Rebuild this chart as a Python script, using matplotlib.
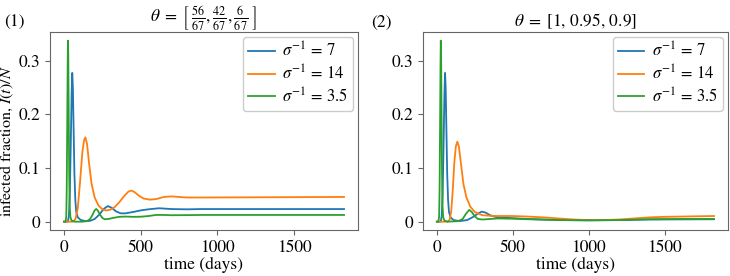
import matplotlib
matplotlib.use("Agg")
import matplotlib.pyplot as plt

plt.rcParams['font.family'] = ['STIXGeneral', 'DejaVu Serif']
plt.rcParams['mathtext.fontset'] = 'stix'
plt.rcParams['font.size'] = 12.5

# ---- data: panel 1 ----
p1_green_t = [0, 10, 15, 18, 21, 24, 26, 28, 31, 34, 37, 42, 50, 70, 120, 150, 170, 185, 200, 210, 220, 235, 250, 265, 290, 320, 360, 400, 450, 500, 550, 600, 650, 700, 800, 900, 1825]
p1_green_v = [0, 0, 0.01, 0.06, 0.17, 0.29, 0.337, 0.31, 0.2, 0.09, 0.03, 0.008, 0.002, 0.0, 0.0, 0.001, 0.005, 0.012, 0.021, 0.0236, 0.021, 0.013, 0.007, 0.0045, 0.005, 0.007, 0.009, 0.0095, 0.009, 0.0092, 0.0105, 0.0125, 0.0125, 0.012, 0.0122, 0.0125, 0.0125]

p1_blue_t = [0, 25, 32, 38, 44, 50, 54, 58, 63, 68, 74, 80, 90, 110, 140, 170, 200, 230, 260, 286, 310, 340, 370, 400, 450, 500, 550, 620, 700, 800, 900, 1825]
p1_blue_v = [0, 0, 0.01, 0.05, 0.14, 0.24, 0.277, 0.25, 0.17, 0.09, 0.04, 0.018, 0.008, 0.003, 0.001, 0.0015, 0.005, 0.013, 0.024, 0.029, 0.026, 0.019, 0.0155, 0.0155, 0.018, 0.021, 0.023, 0.025, 0.0235, 0.023, 0.0235, 0.0235]

p1_orange_t = [0, 60, 75, 90, 105, 120, 132, 140, 150, 165, 180, 200, 225, 250, 275, 300, 330, 360, 390, 420, 440, 460, 490, 520, 560, 600, 650, 700, 750, 800, 900, 1825]
p1_orange_v = [0, 0, 0.005, 0.025, 0.075, 0.13, 0.153, 0.157, 0.145, 0.105, 0.07, 0.045, 0.03, 0.023, 0.021, 0.022, 0.027, 0.036, 0.047, 0.056, 0.058, 0.055, 0.048, 0.043, 0.041, 0.042, 0.046, 0.047, 0.046, 0.045, 0.045, 0.046]

# ---- data: panel 2 ----
p2_green_t = [0, 10, 15, 18, 21, 24, 26, 28, 31, 34, 37, 42, 50, 70, 140, 170, 190, 213, 230, 250, 270, 300, 350, 400, 500, 600, 800, 1000, 1200, 1400, 1600, 1825]
p2_green_v = [0, 0, 0.01, 0.06, 0.17, 0.29, 0.337, 0.31, 0.2, 0.09, 0.03, 0.008, 0.002, 0.0, 0.001, 0.005, 0.014, 0.022, 0.018, 0.01, 0.005, 0.004, 0.005, 0.006, 0.0055, 0.0045, 0.003, 0.0025, 0.003, 0.0045, 0.005, 0.005]

p2_blue_t = [0, 25, 32, 38, 44, 50, 54, 58, 63, 68, 74, 80, 90, 110, 150, 200, 240, 270, 296, 320, 350, 400, 500, 600, 800, 1000, 1200, 1400, 1825]
p2_blue_v = [0, 0, 0.01, 0.05, 0.14, 0.24, 0.277, 0.25, 0.17, 0.09, 0.04, 0.018, 0.008, 0.003, 0.001, 0.003, 0.009, 0.015, 0.0187, 0.017, 0.012, 0.008, 0.0065, 0.005, 0.003, 0.0025, 0.003, 0.004, 0.0045]

p2_orange_t = [0, 70, 85, 95, 105, 115, 125, 135, 145, 160, 175, 195, 220, 250, 300, 350, 400, 500, 600, 700, 800, 900, 1000, 1100, 1200, 1300, 1400, 1500, 1825]
p2_orange_v = [0, 0, 0.004, 0.02, 0.06, 0.11, 0.14, 0.149, 0.14, 0.105, 0.07, 0.045, 0.028, 0.018, 0.012, 0.011, 0.0105, 0.0105, 0.0095, 0.008, 0.006, 0.004, 0.003, 0.003, 0.004, 0.006, 0.008, 0.009, 0.0105]

legend_labels = [r'$\sigma^{-1}\,=\,7$', r'$\sigma^{-1}\,=\,14$', r'$\sigma^{-1}\,=\,3.5$']
titles = [r'$\theta\;=\;\left[\;\frac{56}{67}, \frac{42}{67}, \frac{6}{67}\;\right]$',
          r'$\theta\;=\;[1,\,0.95,\,0.9]$']
panel_tags = ['(1)', '(2)']
yticks = [0, 0.1, 0.2, 0.3]
ytick_labels = ['0', '0.1', '0.2', '0.3']
xticks = [0, 500, 1000, 1500]

blue, orange, green = '#1f77b4', '#ff7f0e', '#2ca02c'

fig = plt.figure(figsize=(7.3, 2.76), dpi=100)
ax1 = fig.add_axes([0.0685, 0.1667, 0.4219, 0.717])
ax2 = fig.add_axes([0.5795, 0.1667, 0.4175, 0.717])

panels = [
    (ax1, (p1_blue_t, p1_blue_v), (p1_orange_t, p1_orange_v), (p1_green_t, p1_green_v)),
    (ax2, (p2_blue_t, p2_blue_v), (p2_orange_t, p2_orange_v), (p2_green_t, p2_green_v)),
]

for i, (ax, b, o, g) in enumerate(panels):
    ax.plot(b[0], b[1], color=blue, lw=1.3, label=legend_labels[0])
    ax.plot(o[0], o[1], color=orange, lw=1.3, label=legend_labels[1])
    ax.plot(g[0], g[1], color=green, lw=1.3, label=legend_labels[2])
    ax.set_xlim(-91, 1916)
    ax.set_ylim(-0.0155, 0.353)
    ax.set_yticks(yticks)
    ax.set_yticklabels(ytick_labels)
    ax.set_xticks(xticks)
    ax.set_xlabel('time (days)', labelpad=1)
    ax.set_title(titles[i], fontsize=12.5, pad=4)
    for s in ax.spines.values():
        s.set_color('0.4')
    ax.tick_params(colors='0.4', labelcolor='black')
    ax.legend(loc='upper right', fontsize=12, framealpha=1,
              edgecolor='0.8', handlelength=1.6, handletextpad=0.45,
              borderaxespad=0.3, borderpad=0.3, labelspacing=0.2)

ax1.set_ylabel(r'infected fraction, $I(t)/N$', fontsize=11.5)
ax1.yaxis.set_label_coords(-0.11, 0.45)
fig.text(4 / 730, 1 - 23 / 276, panel_tags[0], fontsize=12.5, va='center', ha='left')
fig.text(371 / 730, 1 - 23 / 276, panel_tags[1], fontsize=12.5, va='center', ha='left')

fig.savefig('out.png', dpi=100)
